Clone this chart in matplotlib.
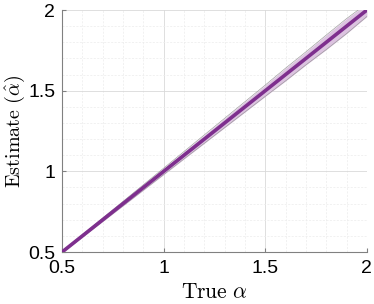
import matplotlib.pyplot as plt

plt.rcParams['mathtext.fontset'] = 'cm'
plt.rcParams['font.family'] = ['Liberation Sans', 'DejaVu Sans']

# true alpha and estimated band
alpha_true = [0.50, 0.60, 0.70, 0.80, 0.90, 1.00, 1.10, 1.20, 1.30, 1.40,
              1.50, 1.60, 1.70, 1.80, 1.90, 2.00]
est_mean = [0.500, 0.600, 0.700, 0.800, 0.900, 1.000, 1.100, 1.200, 1.300,
            1.400, 1.500, 1.600, 1.700, 1.800, 1.900, 2.000]
est_low = [0.495, 0.592, 0.689, 0.786, 0.883, 0.980, 1.077, 1.174, 1.271,
           1.368, 1.465, 1.561, 1.660, 1.755, 1.854, 1.960]
est_high = [0.505, 0.607, 0.711, 0.814, 0.917, 1.020, 1.123, 1.226, 1.329,
            1.432, 1.535, 1.640, 1.741, 1.845, 1.947, 2.040]

fig = plt.figure(figsize=(3.74, 3.04), dpi=100)
ax = fig.add_axes([0.166, 0.171, 0.815, 0.796])

ax.fill_between(alpha_true, est_low, est_high, color='#dcc3e0', lw=0,
                zorder=2)
ax.plot(alpha_true, est_low, color='#999999', lw=0.45, zorder=3)
ax.plot(alpha_true, est_high, color='#999999', lw=0.45, zorder=3)
ax.plot(alpha_true, est_mean, color='#7e2f8e', lw=2.6, zorder=4)

ax.set_xlim(0.5, 2)
ax.set_ylim(0.5, 2)
ax.set_xticks([0.5, 1, 1.5, 2])
ax.set_yticks([0.5, 1, 1.5, 2])
ax.set_xticklabels(['0.5', '1', '1.5', '2'])
ax.set_yticklabels(['0.5', '1', '1.5', '2'])
ax.set_xticks([x / 10 for x in range(5, 21)], minor=True)
ax.set_yticks([x / 10 for x in range(5, 21)], minor=True)
ax.grid(True, which='major', color='#d9d9d9', lw=0.6)
ax.grid(True, which='minor', color='#ececec', lw=0.5, ls=(0, (3, 2)))
ax.set_axisbelow(True)

for s in ['top', 'right']:
    ax.spines[s].set_visible(False)
for s in ['left', 'bottom']:
    ax.spines[s].set_color('#808080')
    ax.spines[s].set_linewidth(0.8)
ax.tick_params(which='major', direction='in', length=3, color='#808080',
               labelsize=14)
ax.tick_params(axis='x', pad=6)
ax.tick_params(axis='y', pad=5)
ax.tick_params(which='minor', length=0)

ax.set_xlabel(r'$\mathrm{True}\ \alpha$', fontsize=15.5, labelpad=3)
ax.set_ylabel(r'$\mathrm{Estimate}\ (\hat{\alpha})$', fontsize=14.5,
              labelpad=1)

fig.savefig('out.png', dpi=100)
